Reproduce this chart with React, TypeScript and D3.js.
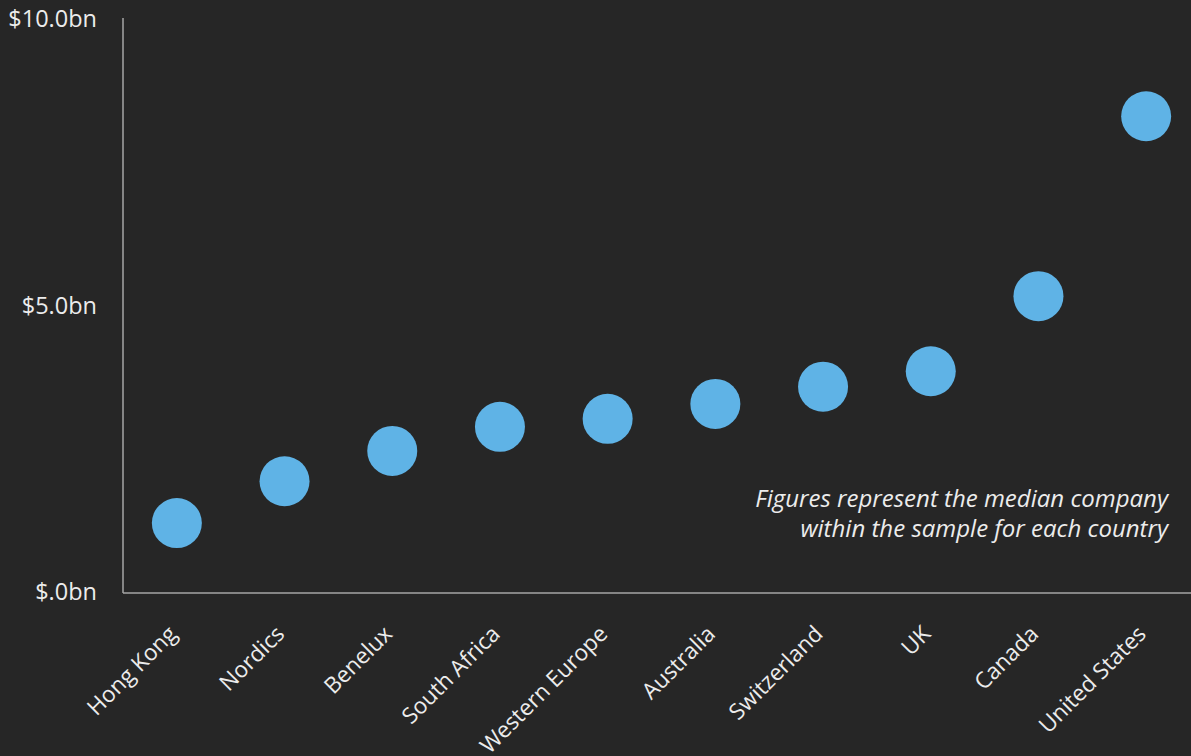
import React from "react";
import * as d3 from "d3";

const categories = ["Hong Kong", "Nordics", "Benelux", "South Africa", "Western Europe", "Australia", "Switzerland", "UK", "Canada", "United States"];
const values = [1.22, 1.95, 2.48, 2.9, 3.04, 3.3, 3.6, 3.87, 5.18, 8.32];
const yTicks = [0, 5, 10];
const yTickLabels = ["$.0bn", "$5.0bn", "$10.0bn"];
const noteLines = ["Figures represent the median company", "within the sample for each country"];

const W = 1191;
const H = 756;
const m = { left: 123, right: -9, top: 20, bottom: 163 };

export default function App() {
  const x = d3.scaleBand<string>().domain(categories).range([m.left, W - m.right]).padding(0);
  const y = d3.scaleLinear().domain([0, 10]).range([H - m.bottom, m.top]);
  const font = "'Open Sans', sans-serif";
  const axisColor = "#a6a6a6";
  const textColor = "#ececec";
  return (
    <div style={{ position: "fixed", left: 0, top: 0, width: W, height: H, background: "#262626" }}>
      <svg width={W} height={H} style={{ display: "block" }}>
        <rect width={W} height={H} fill="#262626" />
        <line x1={m.left} x2={m.left} y1={y(10) - 2} y2={y(0)} stroke={axisColor} strokeWidth={1.5} />
        <line x1={m.left} x2={W} y1={y(0)} y2={y(0)} stroke={axisColor} strokeWidth={1.5} />
        {yTicks.map((t, i) => (
          <text key={t} x={97} y={y(t) + 7} textAnchor="end" fill={textColor} fontFamily={font} fontSize={23.5}>
            {yTickLabels[i]}
          </text>
        ))}
        {categories.map((c) => {
          const cx = (x(c) as number) + x.bandwidth() / 2;
          return (
            <text key={c} transform={`translate(${cx - 10},${y(0) + 31}) rotate(-45)`} textAnchor="end" dy="0.71em" fill={textColor} fontFamily={font} fontSize={22.5}>
              {c}
            </text>
          );
        })}
        {categories.map((c, i) => (
          <circle key={c} cx={(x(c) as number) + x.bandwidth() / 2} cy={y(values[i])} r={25} fill="#5fb3e6" />
        ))}
        {noteLines.map((l, i) => (
          <text key={i} x={1168} y={507 + i * 30} textAnchor="end" fill={textColor} fontFamily={font} fontStyle="italic" fontSize={24}>
            {l}
          </text>
        ))}
      </svg>
    </div>
  );
}
